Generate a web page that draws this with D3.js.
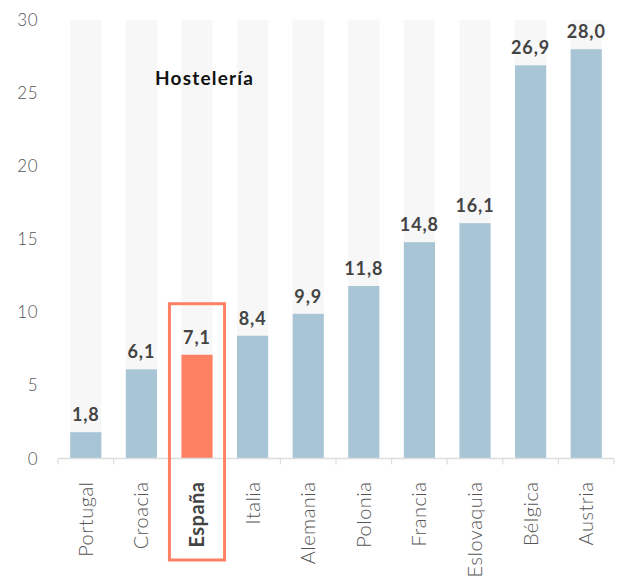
<!DOCTYPE html>
<html><head><meta charset="utf-8">
<script src="https://cdn.jsdelivr.net/npm/d3@7"></script>
<style>body{margin:0;background:#fff;}</style>
</head><body>
<svg id="c" width="621" height="579"></svg>
<script>
const categories = ["Portugal","Croacia","España","Italia","Alemania","Polonia","Francia","Eslovaquia","Bélgica","Austria"];
const values = [1.8,6.1,7.1,8.4,9.9,11.8,14.8,16.1,26.9,28.0];
const yTicks = [0,5,10,15,20,25,30];
const title = "Hostelería";
const highlight = "España";

const svg = d3.select("#c");
const x = d3.scaleBand().domain(categories).range([58,614]).paddingInner(0.44).paddingOuter(0.22);
const y = d3.scaleLinear().domain([0,30]).range([458.5,20]);
const font = "Lato, 'Open Sans', sans-serif";

// background columns
svg.selectAll("rect.bg").data(categories).join("rect")
  .attr("x", d=>x(d)).attr("width", x.bandwidth())
  .attr("y", y(30)).attr("height", y(0)-y(30)).attr("fill","#f7f7f7");

// bars
svg.selectAll("rect.bar").data(values).join("rect")
  .attr("x",(d,i)=>x(categories[i])).attr("width",x.bandwidth())
  .attr("y",d=>y(d)).attr("height",d=>y(0)-y(d))
  .attr("fill",(d,i)=>categories[i]===highlight?"#ff8164":"#a8c5d5");

// value labels
svg.selectAll("text.val").data(values).join("text")
  .attr("x",(d,i)=>x(categories[i])+x.bandwidth()/2).attr("y",d=>y(d)-11)
  .attr("text-anchor","middle").attr("font-family",font).attr("font-weight","bold")
  .attr("font-size","18px").attr("letter-spacing","0.9px").attr("fill","#444")
  .text(d=>d.toFixed(1).replace(".",","));

// x axis
const xAxis = svg.append("g").attr("transform",`translate(0,${y(0)})`);
xAxis.append("line").attr("x1",58).attr("x2",614).attr("stroke","#ddd").attr("stroke-width",1.5);
const edges = categories.map(c=>x(c)-x.step()*x.paddingInner()/2);
edges.push(614);
xAxis.selectAll("line.tk").data(edges).join("line")
  .attr("x1",d=>d).attr("x2",d=>d).attr("y1",0).attr("y2",6).attr("stroke","#ddd").attr("stroke-width",1.2);
xAxis.selectAll("text").data(categories).join("text")
  .attr("transform",d=>`translate(${x(d)+x.bandwidth()/2+7},23) rotate(-90)`)
  .attr("text-anchor","end").attr("font-family",font)
  .attr("font-weight",d=>d===highlight?"bold":"300")
  .attr("font-size","20px").attr("letter-spacing","0.5px")
  .attr("fill",d=>d===highlight?"#444":"#555").text(d=>d);

// y axis labels
svg.selectAll("text.y").data(yTicks).join("text")
  .attr("x",38).attr("y",d=>y(d)+6).attr("text-anchor","end")
  .attr("font-family",font).attr("font-weight","300").attr("font-size","17px").attr("letter-spacing","0.5px").attr("fill","#555")
  .text(d=>d);

// title
svg.append("text").attr("x",155).attr("y",85).attr("font-family",font).attr("font-weight","bold")
  .attr("font-size","19px").attr("letter-spacing","1.2px").attr("fill","#111").text(title);

// highlight rectangle
const hx = x(highlight);
svg.append("rect").attr("x",hx-12).attr("y",y(7.1)-51).attr("width",x.bandwidth()+24)
  .attr("height",560-(y(7.1)-51)).attr("fill","none").attr("stroke","#ff8164").attr("stroke-width",3);
</script>
</body></html>
